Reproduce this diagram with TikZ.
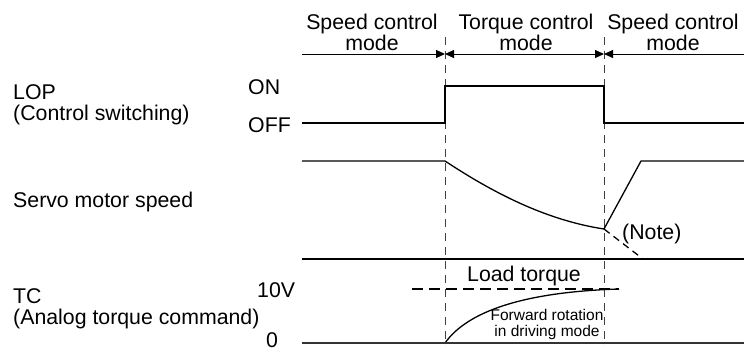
\documentclass[tikz,border=0pt]{standalone}
\usepackage{fontspec}
\setmainfont{Liberation Sans}
\usetikzlibrary{arrows.meta}
\tikzset{
  sig/.style={line width=1.3pt},
  guide/.style={line width=0.9pt,black!75,dash pattern=on 8pt off 6pt},
  lbl/.style={font=\fontsize{21.3}{21}\selectfont,inner sep=0pt,align=center},
  smalllbl/.style={font=\fontsize{15.5}{16}\selectfont,inner sep=0pt,align=center},
  modearrow/.style={line width=1pt,-{Triangle[length=9pt,width=8pt]}},
}
\begin{document}
\begin{tikzpicture}[x=1pt,y=-1pt]
\useasboundingbox (0,0) rectangle (744,351);
% switching instants
\draw[guide] (445,37) -- (445,345);
\draw[guide] (604,37) -- (604,345);
% mode headings
\node[lbl] (m1) at (372,32) {Speed control\\mode};
\node[lbl] (m2) at (526,32) {Torque control\\mode};
\node[lbl] (m3) at (673,32) {Speed control\\mode};
\draw[modearrow] (302,54) -- (445,54);
\draw[modearrow,{Triangle[length=9pt,width=8pt]}-{Triangle[length=9pt,width=8pt]}] (445,54) -- (604,54);
\draw[modearrow] (744,54) -- (604,54);
% LOP
\node[lbl,anchor=west,align=left] (lop) at (13,105) {LOP\\(Control switching)};
\node[lbl,anchor=west] (on) at (248,87) {ON};
\node[lbl,anchor=west] (off) at (248,125) {OFF};
\draw[sig] (302,123) -- (445,123) -- (445,86) -- (604,86) -- (604,123) -- (744,123);
% servo motor speed
\node[lbl,anchor=west] (spd) at (13,202) {Servo motor speed};
\coordinate (low) at (604,229);
\coordinate (top) at (641,161);
\draw[sig] (302,161) -- (445,161) .. controls (492,192) and (545,220) .. (low)
  -- (top) -- (744,161);
\draw[sig,dash pattern=on 7pt off 5pt] (low) -- (643,259);
\node[lbl,anchor=west] (note) at (622,234) {(Note)};
\draw[sig] (302,259) -- (744,259);
% analog torque command
\node[lbl,anchor=west,align=left] (tc) at (13,309) {TC\\(Analog torque command)};
\node[lbl,anchor=west] (ten) at (257,290) {10V};
\node[lbl,anchor=west] (zero) at (266,340) {0};
\draw[sig,dash pattern=on 11pt off 6pt] (412,289) -- (619,289);
\node[lbl] (load) at (524,276) {Load torque};
\draw[sig] (445,343) .. controls (467,312) and (522,292) .. (619,289);
\node[smalllbl] (fwd) at (547,324) {Forward rotation\\in driving mode};
\draw[line width=1.5pt,black!80] (302,343) -- (744,343);
\end{tikzpicture}
\end{document}
